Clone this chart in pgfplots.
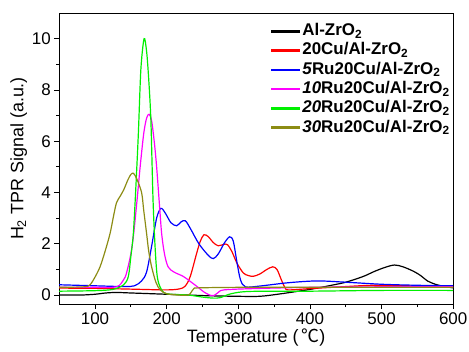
\documentclass[border=0pt]{standalone}
\usepackage{pgfplots}
\pgfplotsset{compat=1.18}
\usepackage{fontspec}
\setmainfont{Liberation Sans}
\newfontfamily\cjk{Noto Sans CJK SC}
\definecolor{cOlive}{RGB}{140,140,20}
\definecolor{cGreen}{RGB}{0,240,0}
\definecolor{cMag}{RGB}{255,0,255}
\definecolor{cRed}{RGB}{255,0,0}
\definecolor{cBlue}{RGB}{0,0,255}
\begin{document}
\begin{tikzpicture}
\useasboundingbox (-59.2bp,-48bp) rectangle (409.8bp,304bp);
\begin{axis}[name=ax, scale only axis, width=394bp, height=291bp,
  xmin=50, xmax=600, ymin=-0.35, ymax=11,
  xtick={100,200,...,600}, minor x tick num=1,
  ytick={0,2,...,10}, minor y tick num=1,
  tick align=outside, tick pos=left,
  major tick length=5bp, minor tick length=3bp,
  axis line style={line width=0.9bp},
  tick style={black, line width=0.8bp},
  ticklabel style={font=\fontsize{17}{20}\selectfont},
  /pgf/number format/assume math mode=true,
  xlabel={Temperature (\,\cjk ℃\rmfamily)},
  ylabel={H\textsubscript{2} TPR Signal (a.u.)},
  label style={font=\fontsize{18}{21}\selectfont},
  xlabel style={yshift=3bp},
  ylabel style={yshift=-2bp},
  legend style={draw=none, fill=none, at={(0.53,0.978)}, anchor=north west,
    font=\bfseries\fontsize{17}{19}\selectfont, row sep=0bp,
    nodes={inner ysep=1bp, text height=13bp, text depth=4.3bp}},
  legend cell align=left,
  legend image code/.code={\fill (0bp,-0.7bp) rectangle (28bp,0.7bp);},
  every axis plot/.append style={line width=1.2bp, smooth, no marks},
]
\addplot[black] coordinates {(50,0.0) (80,0.0) (100,0.03) (115,0.08) (130,0.1) (150,0.08) (180,0.05) (200,0.03) (230,0.0) (260,-0.03) (300,-0.05) (330,-0.05) (360,0.05) (400,0.22) (430,0.38) (450,0.5) (474,0.72) (490,0.92) (505,1.08) (518,1.17) (530,1.1) (545,0.92) (555,0.75) (564,0.55) (575,0.42) (588,0.33) (600,0.28)};
\addlegendentry{Al-ZrO\textsubscript{2}}
\addplot[cRed] coordinates {(50,0.27) (100,0.26) (150,0.23) (200,0.2) (218,0.24) (226,0.35) (233,0.73) (242,1.64) (247,2.1) (252,2.35) (258,2.28) (265,2.05) (272,1.92) (280,1.98) (285,1.96) (291,1.7) (298,1.25) (307,0.86) (314,0.76) (321,0.73) (330,0.82) (340,1.0) (348,1.1) (354,1.0) (360,0.6) (365,0.3) (370,0.2) (400,0.25) (450,0.33) (490,0.38) (550,0.35) (600,0.3)};
\addlegendentry{20Cu/Al-ZrO\textsubscript{2}}
\addplot[cBlue] coordinates {(50,0.4) (100,0.36) (140,0.33) (155,0.36) (165,0.55) (172,0.9) (179,1.9) (186,3.0) (192,3.38) (198,3.2) (206,2.82) (214,2.7) (220,2.85) (226,2.9) (233,2.6) (245,2.0) (258,1.55) (265,1.42) (272,1.6) (281,2.05) (288,2.27) (293,2.1) (298,1.3) (303,0.6) (310,0.32) (330,0.35) (370,0.48) (410,0.55) (450,0.5) (500,0.42) (550,0.38) (600,0.36)};
\addlegendentry{\textit{5}Ru20Cu/Al-ZrO\textsubscript{2}}
\addplot[cMag] coordinates {(50,0.3) (100,0.3) (130,0.32) (140,0.6) (144,0.86) (150,1.6) (154,2.4) (159,3.8) (163,5.0) (168,6.3) (172,6.9) (175.5,7.05) (179,6.8) (183,5.9) (186,5.0) (190,3.5) (193,2.4) (197,1.6) (202,1.1) (210,0.9) (223,0.73) (232,0.55) (242,0.34) (252,0.12) (260,0.0) (266,-0.02) (272,0.1) (280,0.2) (320,0.25) (400,0.3) (500,0.32) (600,0.32)};
\addlegendentry{\textit{10}Ru20Cu/Al-ZrO\textsubscript{2}}
\addplot[cGreen] coordinates {(50,0.15) (100,0.17) (125,0.22) (140,0.4) (146.5,0.72) (150,1.5) (153.5,2.4) (157,4.2) (160.5,6.3) (164,8.8) (168.5,10.0) (172,9.5) (175,8.4) (178,6.8) (181,3.7) (184,1.8) (187,0.7) (192,0.25) (200,0.05) (230,0.0) (250,-0.08) (265,-0.12) (275,-0.1) (290,0.05) (316,0.14) (400,0.15) (500,0.18) (600,0.18)};
\addlegendentry{\textit{20}Ru20Cu/Al-ZrO\textsubscript{2}}
\addplot[cOlive] coordinates {(50,0.3) (85,0.32) (93,0.4) (100,0.7) (107,1.1) (114,1.7) (121,2.4) (126,3.1) (130,3.6) (135,3.85) (140,4.1) (146,4.5) (150,4.7) (153.5,4.75) (158,4.55) (165,4.0) (168,3.3) (172,2.4) (175,1.7) (179,1.1) (185,0.5) (191,0.2) (200,0.05) (215,0.0) (230,0.0) (234,0.1) (238,0.25) (245,0.28) (300,0.3) (400,0.3) (500,0.3) (600,0.3)};
\addlegendentry{\textit{30}Ru20Cu/Al-ZrO\textsubscript{2}}
\end{axis}
\end{tikzpicture}
\end{document}
